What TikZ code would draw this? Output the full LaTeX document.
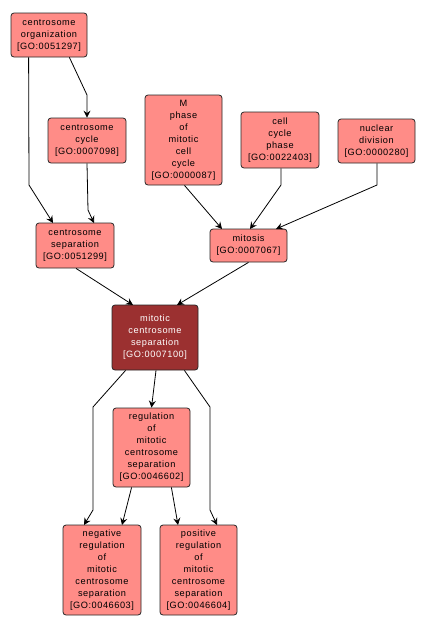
\documentclass[tikz,border=0pt]{standalone}
\usepackage{fontspec}
\setmainfont{Liberation Sans}[LetterSpace=6]
\usetikzlibrary{arrows.meta}
\definecolor{nodefill}{HTML}{FF8C87}
\definecolor{darkfill}{HTML}{9B3030}
\tikzset{
  goterm/.style={draw=black!85, line width=0.8pt, fill=nodefill, rounded corners=3pt,
    align=center, inner sep=1pt, font=\fontsize{9.2}{12}\selectfont, text=black},
  mainterm/.style={goterm, fill=darkfill, text=white},
  edge/.style={draw=black, line width=0.8pt, -{Stealth[length=7pt,width=7pt,inset=2.5pt]}},
}
\begin{document}
\begin{tikzpicture}[x=1pt,y=-1pt]
\useasboundingbox (0,0) rectangle (426,632);
\node[goterm, minimum width=76pt, minimum height=44pt] (org) at (49,35) {centrosome\\organization\\{[GO:0051297]}};
\node[goterm, minimum width=78pt, minimum height=45pt] (cyc) at (87,140.5) {centrosome\\cycle\\{[GO:0007098]}};
\node[goterm, minimum width=77pt, minimum height=90pt] (mph) at (183.5,140) {M\\phase\\of\\mitotic\\cell\\cycle\\{[GO:0000087]}};
\node[goterm, minimum width=78pt, minimum height=56pt] (ccp) at (280,140) {cell\\cycle\\phase\\{[GO:0022403]}};
\node[goterm, minimum width=77pt, minimum height=44pt] (nuc) at (376.5,141) {nuclear\\division\\{[GO:0000280]}};
\node[goterm, minimum width=78pt, minimum height=45pt] (sep) at (75,245.5) {centrosome\\separation\\{[GO:0051299]}};
\node[goterm, minimum width=77pt, minimum height=33pt] (mit) at (248.5,245.5) {mitosis\\{[GO:0007067]}};
\node[mainterm, minimum width=86pt, minimum height=65pt] (mcs) at (155,337.5) {mitotic\\centrosome\\separation\\{[GO:0007100]}};
\node[goterm, minimum width=77pt, minimum height=79pt] (reg) at (151.5,447.5) {regulation\\of\\mitotic\\centrosome\\separation\\{[GO:0046602]}};
\node[goterm, minimum width=78pt, minimum height=90pt] (neg) at (102,570) {negative\\regulation\\of\\mitotic\\centrosome\\separation\\{[GO:0046603]}};
\node[goterm, minimum width=77pt, minimum height=90pt] (pos) at (198.5,570) {positive\\regulation\\of\\mitotic\\centrosome\\separation\\{[GO:0046604]}};

\draw[edge] (org.south east) ++(-18,0) -- (87,95) -- (cyc.north);
\draw[edge] (org.south west) ++(18,0) -- (29,185) -- (53,223);
\draw[edge] (cyc.south) -- (88,210) -- (94,223);
\draw[edge] (mph.south) ++(1,0) -- (222,229);
\draw[edge] (ccp.south) ++(1,0) -- (281,185) -- (250,229);
\draw[edge] (nuc.south) ++(0.5,0) -- (377,185) -- (276,229);
\draw[edge] (sep.south) ++(1,0) -- (133,305);
\draw[edge] (mit.south) -- (177,305);
\draw[edge] (mcs.south) ++(1,0) -- (reg.north);
\draw[edge] (mcs.south west) ++(14,0) -- (93,407) -- (93,510) -- (84,525);
\draw[edge] (mcs.south east) ++(-14,0) -- (210,407) -- (210,510) -- (217,525);
\draw[edge] (reg.south west) ++(19,0) -- (122,525);
\draw[edge] (reg.south east) ++(-19,0) -- (178,525);
\end{tikzpicture}
\end{document}
